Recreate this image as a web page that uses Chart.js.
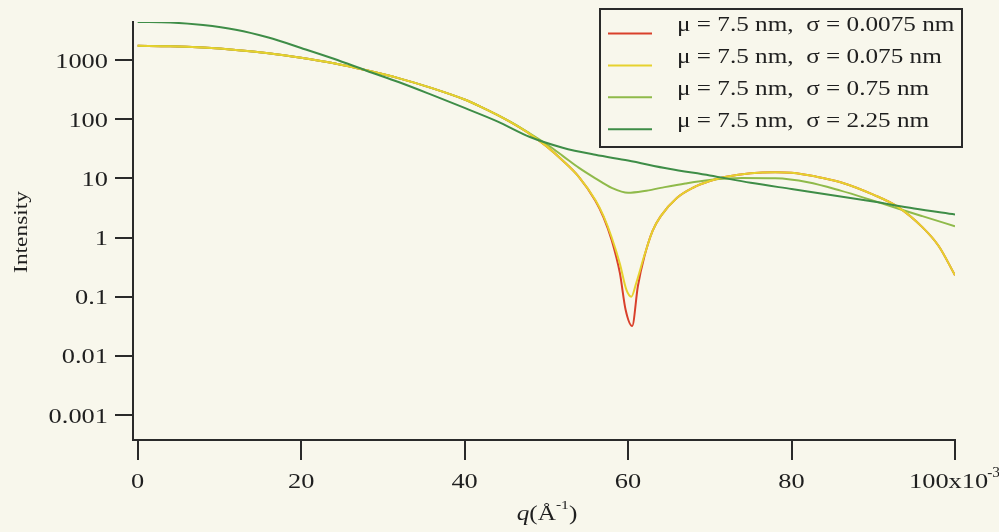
<!DOCTYPE html>
<html>
<head>
<meta charset="utf-8">
<script src="https://cdn.jsdelivr.net/npm/chart.js@4.4.1/dist/chart.umd.min.js"></script>
<style>
  html, body { margin: 0; padding: 0; background: #f8f7ec; }
  #chart { display: block; }
</style>
</head>
<body>
<canvas id="chart" width="999" height="532"></canvas>
<script>
// Sphere scattering curves, mean radius 7.5 nm, four size spreads
const seriesLabels = [
  'μ = 7.5 nm,  σ = 0.0075 nm',
  'μ = 7.5 nm,  σ = 0.075 nm',
  'μ = 7.5 nm,  σ = 0.75 nm',
  'μ = 7.5 nm,  σ = 2.25 nm'
];
const seriesColors = ['#d9402b', '#e6d22e', '#8fba4a', '#3e8d47'];

// sigma = 0.0075 nm
const qSharp = [0, 4, 8, 12, 16, 20, 24, 28, 32, 36, 40, 42, 44, 46, 48, 50, 52, 54, 56, 57, 58, 59, 59.7, 60.5, 61.2, 62, 63, 64, 66, 68, 70, 72, 75, 78, 80, 83, 86, 90, 93, 96, 98, 100];
const iSharp = [1740, 1710, 1620, 1480, 1300, 1090, 880, 670, 490, 335, 215, 162, 118, 83, 56, 35, 20, 10.5, 4.2, 2.2, 0.9, 0.25, 0.06, 0.032, 0.15, 0.48, 1.3, 2.3, 4.7, 7.0, 9.0, 10.6, 12.2, 12.7, 12.4, 10.7, 8.6, 5.3, 3.3, 1.5, 0.72, 0.23];

// sigma = 0.075 nm
const qMid = [0, 4, 8, 12, 16, 20, 24, 28, 32, 36, 40, 42, 44, 46, 48, 50, 52, 54, 56, 57, 58, 59, 59.8, 60.4, 61, 62, 63, 64, 66, 68, 70, 72, 75, 78, 80, 83, 86, 90, 93, 96, 98, 100];
const iMid = [1740, 1710, 1620, 1480, 1300, 1090, 880, 670, 490, 335, 215, 162, 118, 83, 56, 35, 20, 10.5, 4.3, 2.3, 1.0, 0.36, 0.13, 0.10, 0.17, 0.5, 1.3, 2.3, 4.7, 7.0, 9.0, 10.6, 12.2, 12.7, 12.4, 10.7, 8.6, 5.3, 3.3, 1.5, 0.72, 0.23];

// sigma = 0.75 nm
const qBroad = [0, 4, 8, 12, 16, 20, 24, 28, 32, 36, 40, 42, 44, 46, 48, 50, 52, 54, 56, 58, 60, 62, 64, 67, 70, 74, 78, 82, 86, 90, 93, 96, 100];
const iBroad = [1740, 1710, 1620, 1480, 1300, 1090, 880, 670, 490, 335, 215, 162, 118, 84, 57, 38, 24, 15, 10, 6.9, 5.7, 6.1, 6.9, 8.2, 9.4, 10.1, 10.0, 8.6, 6.2, 4.2, 3.1, 2.3, 1.55];

// sigma = 2.25 nm
const qWide = [0, 4, 8, 12, 16, 20, 24, 28, 32, 36, 40, 44, 48, 52, 56, 60, 65, 70, 75, 80, 85, 90, 95, 100];
const iWide = [4400, 4300, 3900, 3250, 2400, 1600, 1050, 660, 420, 257, 155, 92, 50, 33, 25, 20, 14.5, 11.2, 8.4, 6.6, 5.2, 4.05, 3.1, 2.45];

const xTicks = [0, 20, 40, 60, 80, 100];
const xTickLabels = ['0', '20', '40', '60', '80', '100x10'];
const yTicks = [1000, 100, 10, 1, 0.1, 0.01, 0.001];
const yTickLabels = ['1000', '100', '10', '1', '0.1', '0.01', '0.001'];

const INK = '#1f1f1f';
const SERIF = '"Liberation Serif", "Times New Roman", serif';

const toPoints = (q, vals) => q.map((x, k) => ({ x: x, y: vals[k] }));

// text drawn a little wider than the font's natural width
function wideText(ctx, text, x, y, font, align, sx) {
  ctx.save();
  ctx.font = font;
  ctx.textAlign = align;
  ctx.textBaseline = 'alphabetic';
  ctx.translate(x, y);
  ctx.scale(sx, 1);
  ctx.fillText(text, 0, 0);
  ctx.restore();
}

function textWidth(ctx, text, font, sx) {
  ctx.save();
  ctx.font = font;
  const w = ctx.measureText(text).width * sx;
  ctx.restore();
  return w;
}

const labelsPlugin = {
  id: 'labels',
  afterDraw(chart) {
    const { ctx, scales: { x, y } } = chart;
    ctx.save();
    ctx.fillStyle = INK;

    // y tick labels
    const tickFont = '22px ' + SERIF;
    yTicks.forEach((v, k) => {
      wideText(ctx, yTickLabels[k], 108, y.getPixelForValue(v) + 7.5, tickFont, 'right', 1.2);
    });

    // x tick labels, the last one carries the 10^-3 multiplier
    xTicks.forEach((v, k) => {
      const px = x.getPixelForValue(v);
      if (k < xTicks.length - 1) {
        wideText(ctx, xTickLabels[k], px, 488, tickFont, 'center', 1.2);
      } else {
        const supFont = '14px ' + SERIF;
        const wb = textWidth(ctx, xTickLabels[k], tickFont, 1.2);
        const ws = textWidth(ctx, '-3', supFont, 1.1);
        const left = px - (wb + ws) / 2;
        wideText(ctx, xTickLabels[k], left, 488, tickFont, 'left', 1.2);
        wideText(ctx, '-3', left + wb - 1, 477, supFont, 'left', 1.1);
      }
    });

    // axis titles
    ctx.save();
    ctx.translate(27, 232);
    ctx.rotate(-Math.PI / 2);
    wideText(ctx, 'Intensity', 0, 0, '19px ' + SERIF, 'center', 1.23);
    ctx.restore();

    const qFont = 'italic 21px ' + SERIF;
    const tFont = '21px ' + SERIF;
    const sFont = '13px ' + SERIF;
    const parts = [
      { t: 'q', f: qFont, dy: 0 },
      { t: '(Å', f: tFont, dy: 0 },
      { t: '-1', f: sFont, dy: -11 },
      { t: ')', f: tFont, dy: 0 }
    ];
    const total = parts.reduce((s, p) => s + textWidth(ctx, p.t, p.f, 1.2), 0);
    let cx = 547 - total / 2;
    parts.forEach(p => {
      wideText(ctx, p.t, cx, 520 + p.dy, p.f, 'left', 1.2);
      cx += textWidth(ctx, p.t, p.f, 1.2);
    });

    // legend box
    ctx.strokeStyle = '#2a2a2a';
    ctx.lineWidth = 2;
    ctx.strokeRect(600, 9, 362, 138);
    chart.data.datasets.forEach((ds, k) => {
      const base = 31 + k * 31.9;
      ctx.strokeStyle = ds.borderColor;
      ctx.lineWidth = 2;
      ctx.beginPath();
      ctx.moveTo(608, base + 2.5);
      ctx.lineTo(652, base + 2.5);
      ctx.stroke();
      ctx.fillStyle = INK;
      wideText(ctx, ds.label, 677, base, '20px ' + SERIF, 'left', 1.26);
    });
    ctx.restore();
  }
};

const seriesData = [
  toPoints(qSharp, iSharp),
  toPoints(qMid, iMid),
  toPoints(qBroad, iBroad),
  toPoints(qWide, iWide)
];
// drawing order: broad green on top, sharp red underneath
const drawOrder = [3, 1, 2, 0];

new Chart(document.getElementById('chart'), {
  type: 'line',
  data: {
    datasets: seriesData.map((pts, k) => ({
      label: seriesLabels[k],
      data: pts,
      borderColor: seriesColors[k],
      borderWidth: 2,
      pointRadius: 0,
      fill: false,
      cubicInterpolationMode: 'monotone',
      order: drawOrder[k]
    }))
  },
  options: {
    responsive: false,
    animation: false,
    devicePixelRatio: 1,
    layout: { padding: { top: 22, right: 44, left: 0, bottom: 0 } },
    plugins: {
      legend: { display: false },
      tooltip: { enabled: false }
    },
    scales: {
      x: {
        type: 'linear',
        min: -0.57,
        max: 100,
        afterBuildTicks: s => { s.ticks = xTicks.map(v => ({ value: v })); },
        afterFit: s => { s.height = 92; },
        ticks: { display: false },
        grid: { drawOnChartArea: false, drawTicks: true, tickLength: 20, color: '#2a2a2a', lineWidth: 2 },
        border: { display: true, color: '#2a2a2a', width: 2 }
      },
      y: {
        type: 'logarithmic',
        min: 3.78e-4,
        max: 4390,
        afterBuildTicks: s => { s.ticks = yTicks.map(v => ({ value: v })); },
        afterFit: s => { s.width = 133; },
        ticks: { display: false },
        grid: { drawOnChartArea: false, drawTicks: true, tickLength: 18, color: '#2a2a2a', lineWidth: 2 },
        border: { display: true, color: '#2a2a2a', width: 2 }
      }
    }
  },
  plugins: [labelsPlugin]
});
</script>
</body>
</html>
